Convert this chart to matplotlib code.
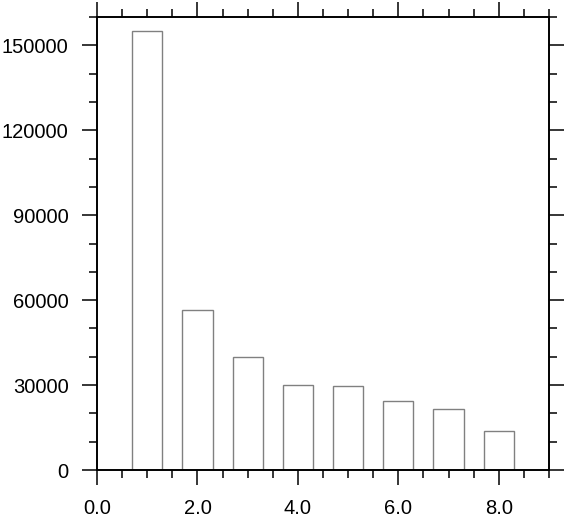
import matplotlib
matplotlib.use("Agg")
import matplotlib.pyplot as plt
from matplotlib.ticker import MultipleLocator, FormatStrFormatter

plt.rcParams['font.family'] = ['Liberation Sans', 'DejaVu Sans']

# bar data
positions = [1, 2, 3, 4, 5, 6, 7, 8]
counts = [155000, 56500, 40000, 30200, 29800, 24300, 21700, 13900]

fig = plt.figure(figsize=(5.68, 5.19), dpi=100)
ax = fig.add_axes([0.1708, 0.0944, 0.7957, 0.8728])

ax.bar(positions, counts, width=0.6, facecolor="white", edgecolor="#808080", linewidth=1.0)

ax.set_xlim(0, 9)
ax.set_ylim(0, 160000)

ax.xaxis.set_major_locator(MultipleLocator(2))
ax.xaxis.set_minor_locator(MultipleLocator(0.5))
ax.xaxis.set_major_formatter(FormatStrFormatter("%.1f"))
ax.yaxis.set_major_locator(MultipleLocator(30000))
ax.yaxis.set_minor_locator(MultipleLocator(10000))

ax.tick_params(which="both", direction="out", top=True, right=True,
               labeltop=False, labelright=False, width=1.1, color="black")
ax.tick_params(which="major", length=10.5, labelsize=14.5)
ax.tick_params(axis="y", which="major", pad=10)
ax.tick_params(axis="x", which="major", pad=10.5)
ax.tick_params(which="minor", length=5.8)

for s in ax.spines.values():
    s.set_linewidth(1.4)

fig.savefig("out.png", dpi=100)
